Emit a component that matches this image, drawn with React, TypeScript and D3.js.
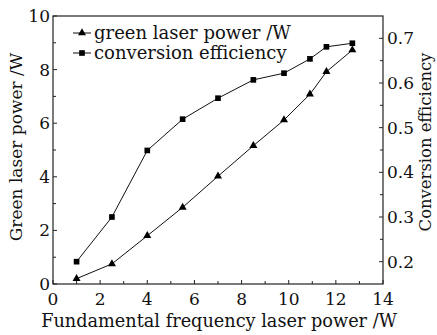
import React from "react";
import * as d3 from "d3";

const fundamentalPower = [1, 2.5, 4, 5.5, 7, 8.5, 9.8, 10.9, 11.6, 12.7];
const greenPower = [0.2, 0.75, 1.8, 2.86, 4.02, 5.16, 6.12, 7.08, 7.92, 8.73];
const efficiency = [0.2, 0.3, 0.449, 0.519, 0.566, 0.607, 0.622, 0.654, 0.681, 0.689];
const xTicks = [0, 2, 4, 6, 8, 10, 12, 14];
const yLeftTicks = [0, 2, 4, 6, 8, 10];
const yRightTicks = [0.2, 0.3, 0.4, 0.5, 0.6, 0.7];
const legendLabels = ["green laser power /W", "conversion efficiency"];

const W = 437, H = 335;
const M = { left: 53, right: 383, top: 16, bottom: 284 };
const FONT = "'DejaVu Serif', serif";

export default function App() {
  const x = d3.scaleLinear().domain([0, 14]).range([M.left, M.right]);
  const yL = d3.scaleLinear().domain([0, 10]).range([M.bottom, M.top]);
  const yR = d3.scaleLinear().domain([0.15, 0.75]).range([M.bottom, M.top]);

  const lineG = d3.line<number>().x((_, i) => x(fundamentalPower[i])).y((d) => yL(d));
  const lineE = d3.line<number>().x((_, i) => x(fundamentalPower[i])).y((d) => yR(d));
  const tri = d3.symbol().type(d3.symbolTriangle).size(28)();
  const sq = d3.symbol().type(d3.symbolSquare).size(32)();

  const xMinor = d3.range(1, 14, 2);
  const yLMinor = d3.range(1, 10, 2);
  const yRMinor = [0.25, 0.35, 0.45, 0.55, 0.65];
  const tk = 4, tkMinor = 3;
  const col = "#222";

  return (
    <svg width={W} height={H} style={{ position: "absolute", left: 0, top: 0, background: "#fff" }}>
      <rect x={M.left} y={M.top} width={M.right - M.left} height={M.bottom - M.top} fill="none" stroke={col} strokeWidth={1.2} />
      {xTicks.map((t) => (
        <g key={"x" + t}>
          <line x1={x(t)} x2={x(t)} y1={M.bottom} y2={M.bottom - tk} stroke={col} />
          <text x={x(t)} y={305} textAnchor="middle" fontFamily={FONT} fontSize={17} fill="#111">{t}</text>
        </g>
      ))}
      {xMinor.map((t) => (
        <line key={"xm" + t} x1={x(t)} x2={x(t)} y1={M.bottom} y2={M.bottom - tkMinor} stroke={col} />
      ))}
      {yLeftTicks.map((t) => (
        <g key={"yl" + t}>
          <line x1={M.left} x2={M.left + tk} y1={yL(t)} y2={yL(t)} stroke={col} />
          <text x={M.left - 3} y={yL(t) + 6} textAnchor="end" fontFamily={FONT} fontSize={17} fill="#111">{t}</text>
        </g>
      ))}
      {yLMinor.map((t) => (
        <line key={"ylm" + t} x1={M.left} x2={M.left + tkMinor} y1={yL(t)} y2={yL(t)} stroke={col} />
      ))}
      {yRightTicks.map((t) => (
        <g key={"yr" + t}>
          <line x1={M.right} x2={M.right - tk} y1={yR(t)} y2={yR(t)} stroke={col} />
          <text x={M.right + 4} y={yR(t) + 6} textAnchor="start" fontFamily={FONT} fontSize={17} fill="#111">{t.toFixed(1)}</text>
        </g>
      ))}
      {yRMinor.map((t) => (
        <line key={"yrm" + t} x1={M.right} x2={M.right - tkMinor} y1={yR(t)} y2={yR(t)} stroke={col} />
      ))}
      <text x={219} y={327} textAnchor="middle" fontFamily={FONT} fontSize={17.7} fill="#111">Fundamental frequency laser power /W</text>
      <text transform={`translate(22,147) rotate(-90)`} textAnchor="middle" fontFamily={FONT} fontSize={17} fill="#111">Green laser power /W</text>
      <text transform={`translate(431,142) rotate(-90)`} textAnchor="middle" fontFamily={FONT} fontSize={16.4} fill="#111">Conversion efficiency</text>
      <path d={lineG(greenPower) || ""} fill="none" stroke="#111" strokeWidth={1} />
      <path d={lineE(efficiency) || ""} fill="none" stroke="#111" strokeWidth={1} />
      {greenPower.map((v, i) => (
        <path key={"g" + i} d={tri || ""} transform={`translate(${x(fundamentalPower[i])},${yL(v)})`} fill="#000" />
      ))}
      {efficiency.map((v, i) => (
        <path key={"e" + i} d={sq || ""} transform={`translate(${x(fundamentalPower[i])},${yR(v)})`} fill="#000" />
      ))}
      {legendLabels.map((lab, i) => {
        const ly = 33 + i * 20;
        return (
          <g key={lab}>
            <line x1={73} x2={91} y1={ly} y2={ly} stroke="#111" />
            <path d={(i === 0 ? tri : sq) || ""} transform={`translate(82,${ly})`} fill="#000" />
            <text x={94} y={ly + 6} fontFamily={FONT} fontSize={18} fill="#111">{lab}</text>
          </g>
        );
      })}
    </svg>
  );
}
